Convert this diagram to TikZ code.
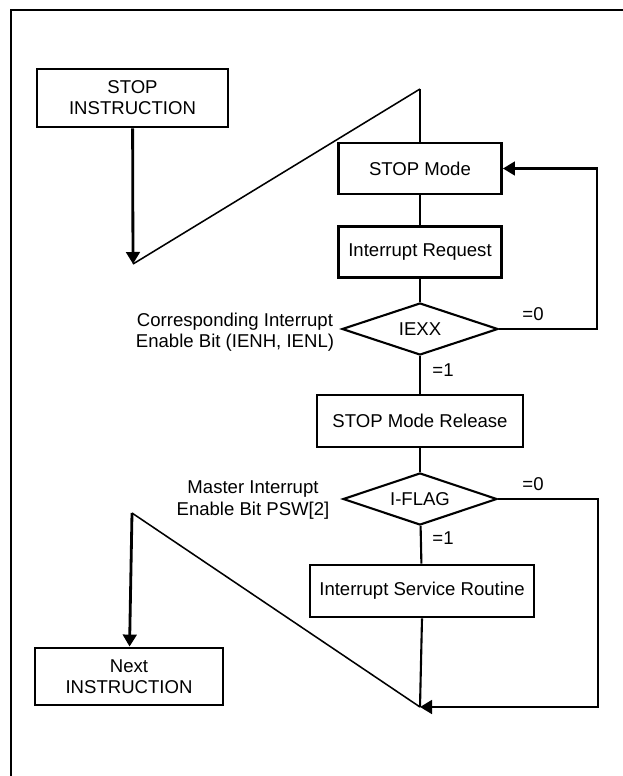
\documentclass[tikz,border=0pt]{standalone}
\usepackage{fontspec}
\setmainfont{Liberation Sans}
\usetikzlibrary{arrows.meta,shapes.geometric}

\begin{document}
\begin{tikzpicture}[x=0.025cm,y=-0.025cm,
    block/.style={draw,line width=2pt,align=center,inner sep=0pt,
      font=\fontsize{13.2}{15}\selectfont},
    decision/.style={draw,diamond,line width=1.5pt,inner sep=0pt,aspect=3,
      minimum width=3.9cm,minimum height=1.3cm,font=\fontsize{13.2}{15}\selectfont},
    note/.style={align=center,inner sep=0pt,font=\fontsize{13.2}{15}\selectfont},
    link/.style={line width=1.5pt},
    slant/.style={line width=1.1pt},
    arrow/.style={-{Triangle[length=0.3cm,width=0.34cm]},line width=2pt}
  ]
    \useasboundingbox (0,0) rectangle (623,776);
    \draw[line width=2pt] (11,790) -- (11,10) -- (640,10);

    \node[block,minimum width=4.775cm,minimum height=1.45cm] (stopins) at (132.5,98)
      {STOP\\INSTRUCTION};
    \node[block,minimum width=4.075cm,minimum height=1.275cm] (stopmode) at (420,168.5)
      {STOP Mode};
    \node[block,minimum width=4.075cm,minimum height=1.275cm] (intreq) at (420,252)
      {Interrupt Request};
    \node[decision] (iexx) at (420,329) {IEXX};
    \node[block,minimum width=5.15cm,minimum height=1.3cm] (release) at (420,421)
      {STOP Mode Release};
    \node[decision,minimum width=3.85cm] (iflag) at (420,499) {I-FLAG};
    \node[block,minimum width=5.6cm,minimum height=1.3cm] (isr) at (422,591)
      {Interrupt Service Routine};
    \node[block,minimum width=4.7cm,minimum height=1.425cm] (nextins) at (129,676.5)
      {Next\\INSTRUCTION};

    \node[note] (iexxnote) at (235,332)
      {Corresponding Interrupt\\Enable Bit (IENH, IENL)};
    \node[note] (iflagnote) at (253,500)
      {Master Interrupt\\Enable Bit PSW[2]};
    \node[note] (iexxzero) at (533,314) {=0};
    \node[note] (iexxone) at (443,370) {=1};
    \node[note] (iflagzero) at (533,484) {=0};
    \node[note] (iflagone) at (443,538) {=1};

    \coordinate (a1) at (133,264);
    \coordinate (a2) at (420,89);
    \coordinate (r1) at (597,329);
    \coordinate (r2) at (598,499);
    \coordinate (b1) at (420,707);
    \coordinate (b2) at (132,513);

    \draw[arrow] (stopins) -- (a1);
    \draw[slant] (a1) -- (a2);
    \draw[link] (a2) -- (stopmode.north);
    \draw[link] (stopmode) -- (intreq); \draw[link] (intreq) -- (iexx);
    \draw[link] (iexx) -- (release); \draw[link] (release) -- (iflag);
    \draw[link] (iflag) -- (isr); \draw[link] (isr.south) -- (b1);
    \draw[arrow] (iexx.east) -- (r1) |- (stopmode.east);
    \draw[arrow] (iflag.east) -- (r2) |- (b1);
    \draw[slant] (b1) -- (b2);
    \draw[arrow] (b2) -- (nextins);
  \end{tikzpicture}
\end{document}
